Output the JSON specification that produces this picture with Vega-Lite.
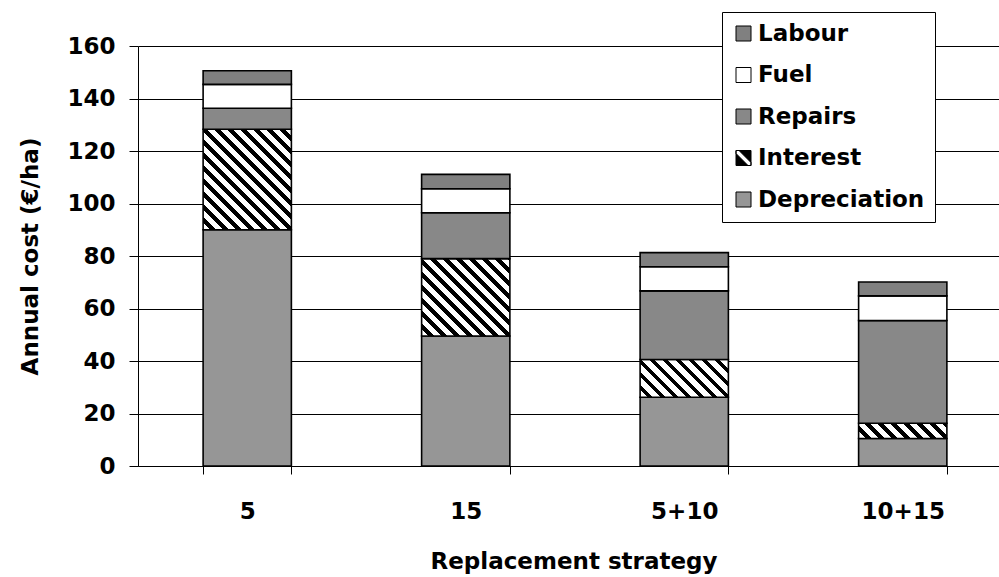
{
  "$schema": "https://vega.github.io/schema/vega-lite/v6.json",
  "autosize": {"type": "none"},
  "width": 861,
  "height": 420,
  "padding": {"left": 138, "top": 46, "right": 0, "bottom": 111},
  "background": "#ffffff",
  "config": {
    "font": "DejaVu Sans",
    "view": {"stroke": null},
    "axis": {
      "domainColor": "#000000",
      "domainWidth": 1,
      "tickColor": "#000000",
      "tickWidth": 1,
      "labelColor": "#000000",
      "labelFontSize": 23,
      "labelFontWeight": "bold",
      "titleColor": "#000000",
      "titleFontSize": 23,
      "titleFontWeight": "bold"
    }
  },
  "data": {
    "values": [
      {"strategy": "5", "component": "Depreciation", "level": 1, "cost": 90.0},
      {"strategy": "5", "component": "Interest", "level": 2, "cost": 38.3},
      {"strategy": "5", "component": "Repairs", "level": 3, "cost": 8.0},
      {"strategy": "5", "component": "Fuel", "level": 4, "cost": 9.1},
      {"strategy": "5", "component": "Labour", "level": 5, "cost": 5.2},
      {"strategy": "15", "component": "Depreciation", "level": 1, "cost": 49.5},
      {"strategy": "15", "component": "Interest", "level": 2, "cost": 29.5},
      {"strategy": "15", "component": "Repairs", "level": 3, "cost": 17.5},
      {"strategy": "15", "component": "Fuel", "level": 4, "cost": 9.1},
      {"strategy": "15", "component": "Labour", "level": 5, "cost": 5.5},
      {"strategy": "5+10", "component": "Depreciation", "level": 1, "cost": 26.2},
      {"strategy": "5+10", "component": "Interest", "level": 2, "cost": 14.4},
      {"strategy": "5+10", "component": "Repairs", "level": 3, "cost": 26.1},
      {"strategy": "5+10", "component": "Fuel", "level": 4, "cost": 9.2},
      {"strategy": "5+10", "component": "Labour", "level": 5, "cost": 5.4},
      {"strategy": "10+15", "component": "Depreciation", "level": 1, "cost": 10.5},
      {"strategy": "10+15", "component": "Interest", "level": 2, "cost": 5.8},
      {"strategy": "10+15", "component": "Repairs", "level": 3, "cost": 39.1},
      {"strategy": "10+15", "component": "Fuel", "level": 4, "cost": 9.4},
      {"strategy": "10+15", "component": "Labour", "level": 5, "cost": 5.3}
    ]
  },
  "mark": {"type": "bar", "stroke": "#000000", "strokeWidth": 1.6},
  "encoding": {
    "x": {
      "field": "strategy",
      "type": "nominal",
      "sort": ["5", "15", "5+10", "10+15"],
      "scale": {"range": [0, 874], "paddingInner": 0.596, "paddingOuter": 0.298},
      "axis": {
        "title": "Replacement strategy",
        "labelAngle": 0,
        "tickBand": "extent",
        "tickSize": 8,
        "labelBaseline": "alphabetic",
        "labelPadding": 44.5,
        "grid": false,
        "titleX": 435.5,
        "titleY": 102,
        "titleAlign": "center",
        "titleBaseline": "alphabetic"
      }
    },
    "y": {
      "field": "cost",
      "type": "quantitative",
      "stack": "zero",
      "scale": {"domain": [0, 160], "nice": false},
      "axis": {
        "title": "Annual cost (€/ha)",
        "values": [0, 20, 40, 60, 80, 100, 120, 140, 160],
        "grid": true,
        "gridColor": "#000000",
        "gridWidth": 1,
        "tickSize": 9,
        "labelPadding": 14,
        "titleAngle": 270,
        "titleX": -101,
        "titleY": 210,
        "titleAlign": "center",
        "titleBaseline": "alphabetic"
      }
    },
    "order": {"field": "level", "type": "quantitative"},
    "fill": {
      "field": "component",
      "type": "nominal",
      "scale": {
        "domain": ["Labour", "Fuel", "Repairs", "Interest", "Depreciation"],
        "range": ["#808080", "#ffffff", "#888888", "#000000", "#969696"]
      },
      "legend": {
        "title": null,
        "orient": "none",
        "legendX": 584,
        "legendY": -34,
        "direction": "vertical",
        "strokeColor": "#000000",
        "fillColor": "#ffffff",
        "padding": 10,
        "symbolType": "square",
        "symbolSize": 225,
        "symbolStrokeColor": "#000000",
        "symbolStrokeWidth": 1,
        "symbolOpacity": 1,
        "labelFontSize": 23,
        "labelFontWeight": "bold",
        "labelColor": "#000000",
        "labelOffset": 3,
        "labelLimit": 400,
        "rowPadding": 17.5,
        "encode": {
          "symbols": {
            "update": {
              "stroke": {"value": "#000000"},
              "strokeWidth": {"value": 1},
              "shape": [
                {
                  "test": "datum.value === 'Interest'",
                  "value": "M-1,-1L1,-1L1,1L-1,1Z M-1,-1L-1,-0.6L0.6,1L1,1L1,0.6L-0.6,-1Z"
                },
                {"value": "square"}
              ]
            }
          }
        }
      },
      "condition": [
        {
          "test": "datum.component === 'Interest' && datum.strategy === '5'",
          "value": {"gradient": "linear", "x1": 0, "y1": 1, "x2": 0.9629, "y2": -0.0959, "stops": [
            {"offset": 0, "color": "#ffffff"}, {"offset": 0.0367, "color": "#ffffff"}, {"offset": 0.0367, "color": "#000000"}, {"offset": 0.0667, "color": "#000000"},
            {"offset": 0.0667, "color": "#ffffff"}, {"offset": 0.1033, "color": "#ffffff"}, {"offset": 0.1033, "color": "#000000"}, {"offset": 0.1333, "color": "#000000"},
            {"offset": 0.1333, "color": "#ffffff"}, {"offset": 0.17, "color": "#ffffff"}, {"offset": 0.17, "color": "#000000"}, {"offset": 0.2, "color": "#000000"},
            {"offset": 0.2, "color": "#ffffff"}, {"offset": 0.2367, "color": "#ffffff"}, {"offset": 0.2367, "color": "#000000"}, {"offset": 0.2667, "color": "#000000"},
            {"offset": 0.2667, "color": "#ffffff"}, {"offset": 0.3033, "color": "#ffffff"}, {"offset": 0.3033, "color": "#000000"}, {"offset": 0.3333, "color": "#000000"},
            {"offset": 0.3333, "color": "#ffffff"}, {"offset": 0.37, "color": "#ffffff"}, {"offset": 0.37, "color": "#000000"}, {"offset": 0.4, "color": "#000000"},
            {"offset": 0.4, "color": "#ffffff"}, {"offset": 0.4367, "color": "#ffffff"}, {"offset": 0.4367, "color": "#000000"}, {"offset": 0.4667, "color": "#000000"},
            {"offset": 0.4667, "color": "#ffffff"}, {"offset": 0.5033, "color": "#ffffff"}, {"offset": 0.5033, "color": "#000000"}, {"offset": 0.5333, "color": "#000000"},
            {"offset": 0.5333, "color": "#ffffff"}, {"offset": 0.57, "color": "#ffffff"}, {"offset": 0.57, "color": "#000000"}, {"offset": 0.6, "color": "#000000"},
            {"offset": 0.6, "color": "#ffffff"}, {"offset": 0.6367, "color": "#ffffff"}, {"offset": 0.6367, "color": "#000000"}, {"offset": 0.6667, "color": "#000000"},
            {"offset": 0.6667, "color": "#ffffff"}, {"offset": 0.7033, "color": "#ffffff"}, {"offset": 0.7033, "color": "#000000"}, {"offset": 0.7333, "color": "#000000"},
            {"offset": 0.7333, "color": "#ffffff"}, {"offset": 0.77, "color": "#ffffff"}, {"offset": 0.77, "color": "#000000"}, {"offset": 0.8, "color": "#000000"},
            {"offset": 0.8, "color": "#ffffff"}, {"offset": 0.8367, "color": "#ffffff"}, {"offset": 0.8367, "color": "#000000"}, {"offset": 0.8667, "color": "#000000"},
            {"offset": 0.8667, "color": "#ffffff"}, {"offset": 0.9033, "color": "#ffffff"}, {"offset": 0.9033, "color": "#000000"}, {"offset": 0.9333, "color": "#000000"},
            {"offset": 0.9333, "color": "#ffffff"}, {"offset": 0.97, "color": "#ffffff"}, {"offset": 0.97, "color": "#000000"}, {"offset": 1, "color": "#000000"}
          ]}
        },
        {
          "test": "datum.component === 'Interest' && datum.strategy === '15'",
          "value": {"gradient": "linear", "x1": 0, "y1": 1, "x2": 1.2499, "y2": -0.0955, "stops": [
            {"offset": 0, "color": "#ffffff"}, {"offset": 0.0367, "color": "#ffffff"}, {"offset": 0.0367, "color": "#000000"}, {"offset": 0.0667, "color": "#000000"},
            {"offset": 0.0667, "color": "#ffffff"}, {"offset": 0.1033, "color": "#ffffff"}, {"offset": 0.1033, "color": "#000000"}, {"offset": 0.1333, "color": "#000000"},
            {"offset": 0.1333, "color": "#ffffff"}, {"offset": 0.17, "color": "#ffffff"}, {"offset": 0.17, "color": "#000000"}, {"offset": 0.2, "color": "#000000"},
            {"offset": 0.2, "color": "#ffffff"}, {"offset": 0.2367, "color": "#ffffff"}, {"offset": 0.2367, "color": "#000000"}, {"offset": 0.2667, "color": "#000000"},
            {"offset": 0.2667, "color": "#ffffff"}, {"offset": 0.3033, "color": "#ffffff"}, {"offset": 0.3033, "color": "#000000"}, {"offset": 0.3333, "color": "#000000"},
            {"offset": 0.3333, "color": "#ffffff"}, {"offset": 0.37, "color": "#ffffff"}, {"offset": 0.37, "color": "#000000"}, {"offset": 0.4, "color": "#000000"},
            {"offset": 0.4, "color": "#ffffff"}, {"offset": 0.4367, "color": "#ffffff"}, {"offset": 0.4367, "color": "#000000"}, {"offset": 0.4667, "color": "#000000"},
            {"offset": 0.4667, "color": "#ffffff"}, {"offset": 0.5033, "color": "#ffffff"}, {"offset": 0.5033, "color": "#000000"}, {"offset": 0.5333, "color": "#000000"},
            {"offset": 0.5333, "color": "#ffffff"}, {"offset": 0.57, "color": "#ffffff"}, {"offset": 0.57, "color": "#000000"}, {"offset": 0.6, "color": "#000000"},
            {"offset": 0.6, "color": "#ffffff"}, {"offset": 0.6367, "color": "#ffffff"}, {"offset": 0.6367, "color": "#000000"}, {"offset": 0.6667, "color": "#000000"},
            {"offset": 0.6667, "color": "#ffffff"}, {"offset": 0.7033, "color": "#ffffff"}, {"offset": 0.7033, "color": "#000000"}, {"offset": 0.7333, "color": "#000000"},
            {"offset": 0.7333, "color": "#ffffff"}, {"offset": 0.77, "color": "#ffffff"}, {"offset": 0.77, "color": "#000000"}, {"offset": 0.8, "color": "#000000"},
            {"offset": 0.8, "color": "#ffffff"}, {"offset": 0.8367, "color": "#ffffff"}, {"offset": 0.8367, "color": "#000000"}, {"offset": 0.8667, "color": "#000000"},
            {"offset": 0.8667, "color": "#ffffff"}, {"offset": 0.9033, "color": "#ffffff"}, {"offset": 0.9033, "color": "#000000"}, {"offset": 0.9333, "color": "#000000"},
            {"offset": 0.9333, "color": "#ffffff"}, {"offset": 0.97, "color": "#ffffff"}, {"offset": 0.97, "color": "#000000"}, {"offset": 1, "color": "#000000"}
          ]}
        },
        {
          "test": "datum.component === 'Interest' && datum.strategy === '5+10'",
          "value": {"gradient": "linear", "x1": 0, "y1": 1, "x2": 1.8679, "y2": 0.2004, "stops": [
            {"offset": 0, "color": "#ffffff"}, {"offset": 0.0367, "color": "#ffffff"}, {"offset": 0.0367, "color": "#000000"}, {"offset": 0.0667, "color": "#000000"},
            {"offset": 0.0667, "color": "#ffffff"}, {"offset": 0.1033, "color": "#ffffff"}, {"offset": 0.1033, "color": "#000000"}, {"offset": 0.1333, "color": "#000000"},
            {"offset": 0.1333, "color": "#ffffff"}, {"offset": 0.17, "color": "#ffffff"}, {"offset": 0.17, "color": "#000000"}, {"offset": 0.2, "color": "#000000"},
            {"offset": 0.2, "color": "#ffffff"}, {"offset": 0.2367, "color": "#ffffff"}, {"offset": 0.2367, "color": "#000000"}, {"offset": 0.2667, "color": "#000000"},
            {"offset": 0.2667, "color": "#ffffff"}, {"offset": 0.3033, "color": "#ffffff"}, {"offset": 0.3033, "color": "#000000"}, {"offset": 0.3333, "color": "#000000"},
            {"offset": 0.3333, "color": "#ffffff"}, {"offset": 0.37, "color": "#ffffff"}, {"offset": 0.37, "color": "#000000"}, {"offset": 0.4, "color": "#000000"},
            {"offset": 0.4, "color": "#ffffff"}, {"offset": 0.4367, "color": "#ffffff"}, {"offset": 0.4367, "color": "#000000"}, {"offset": 0.4667, "color": "#000000"},
            {"offset": 0.4667, "color": "#ffffff"}, {"offset": 0.5033, "color": "#ffffff"}, {"offset": 0.5033, "color": "#000000"}, {"offset": 0.5333, "color": "#000000"},
            {"offset": 0.5333, "color": "#ffffff"}, {"offset": 0.57, "color": "#ffffff"}, {"offset": 0.57, "color": "#000000"}, {"offset": 0.6, "color": "#000000"},
            {"offset": 0.6, "color": "#ffffff"}, {"offset": 0.6367, "color": "#ffffff"}, {"offset": 0.6367, "color": "#000000"}, {"offset": 0.6667, "color": "#000000"},
            {"offset": 0.6667, "color": "#ffffff"}, {"offset": 0.7033, "color": "#ffffff"}, {"offset": 0.7033, "color": "#000000"}, {"offset": 0.7333, "color": "#000000"},
            {"offset": 0.7333, "color": "#ffffff"}, {"offset": 0.77, "color": "#ffffff"}, {"offset": 0.77, "color": "#000000"}, {"offset": 0.8, "color": "#000000"},
            {"offset": 0.8, "color": "#ffffff"}, {"offset": 0.8367, "color": "#ffffff"}, {"offset": 0.8367, "color": "#000000"}, {"offset": 0.8667, "color": "#000000"},
            {"offset": 0.8667, "color": "#ffffff"}, {"offset": 0.9033, "color": "#ffffff"}, {"offset": 0.9033, "color": "#000000"}, {"offset": 0.9333, "color": "#000000"},
            {"offset": 0.9333, "color": "#ffffff"}, {"offset": 0.97, "color": "#ffffff"}, {"offset": 0.97, "color": "#000000"}, {"offset": 1, "color": "#000000"}
          ]}
        },
        {
          "test": "datum.component === 'Interest' && datum.strategy === '10+15'",
          "value": {"gradient": "linear", "x1": 0, "y1": 1, "x2": 2.1466, "y2": 0.6305, "stops": [
            {"offset": 0, "color": "#ffffff"}, {"offset": 0.0367, "color": "#ffffff"}, {"offset": 0.0367, "color": "#000000"}, {"offset": 0.0667, "color": "#000000"},
            {"offset": 0.0667, "color": "#ffffff"}, {"offset": 0.1033, "color": "#ffffff"}, {"offset": 0.1033, "color": "#000000"}, {"offset": 0.1333, "color": "#000000"},
            {"offset": 0.1333, "color": "#ffffff"}, {"offset": 0.17, "color": "#ffffff"}, {"offset": 0.17, "color": "#000000"}, {"offset": 0.2, "color": "#000000"},
            {"offset": 0.2, "color": "#ffffff"}, {"offset": 0.2367, "color": "#ffffff"}, {"offset": 0.2367, "color": "#000000"}, {"offset": 0.2667, "color": "#000000"},
            {"offset": 0.2667, "color": "#ffffff"}, {"offset": 0.3033, "color": "#ffffff"}, {"offset": 0.3033, "color": "#000000"}, {"offset": 0.3333, "color": "#000000"},
            {"offset": 0.3333, "color": "#ffffff"}, {"offset": 0.37, "color": "#ffffff"}, {"offset": 0.37, "color": "#000000"}, {"offset": 0.4, "color": "#000000"},
            {"offset": 0.4, "color": "#ffffff"}, {"offset": 0.4367, "color": "#ffffff"}, {"offset": 0.4367, "color": "#000000"}, {"offset": 0.4667, "color": "#000000"},
            {"offset": 0.4667, "color": "#ffffff"}, {"offset": 0.5033, "color": "#ffffff"}, {"offset": 0.5033, "color": "#000000"}, {"offset": 0.5333, "color": "#000000"},
            {"offset": 0.5333, "color": "#ffffff"}, {"offset": 0.57, "color": "#ffffff"}, {"offset": 0.57, "color": "#000000"}, {"offset": 0.6, "color": "#000000"},
            {"offset": 0.6, "color": "#ffffff"}, {"offset": 0.6367, "color": "#ffffff"}, {"offset": 0.6367, "color": "#000000"}, {"offset": 0.6667, "color": "#000000"},
            {"offset": 0.6667, "color": "#ffffff"}, {"offset": 0.7033, "color": "#ffffff"}, {"offset": 0.7033, "color": "#000000"}, {"offset": 0.7333, "color": "#000000"},
            {"offset": 0.7333, "color": "#ffffff"}, {"offset": 0.77, "color": "#ffffff"}, {"offset": 0.77, "color": "#000000"}, {"offset": 0.8, "color": "#000000"},
            {"offset": 0.8, "color": "#ffffff"}, {"offset": 0.8367, "color": "#ffffff"}, {"offset": 0.8367, "color": "#000000"}, {"offset": 0.8667, "color": "#000000"},
            {"offset": 0.8667, "color": "#ffffff"}, {"offset": 0.9033, "color": "#ffffff"}, {"offset": 0.9033, "color": "#000000"}, {"offset": 0.9333, "color": "#000000"},
            {"offset": 0.9333, "color": "#ffffff"}, {"offset": 0.97, "color": "#ffffff"}, {"offset": 0.97, "color": "#000000"}, {"offset": 1, "color": "#000000"}
          ]}
        }
      ]
    }
  }
}
